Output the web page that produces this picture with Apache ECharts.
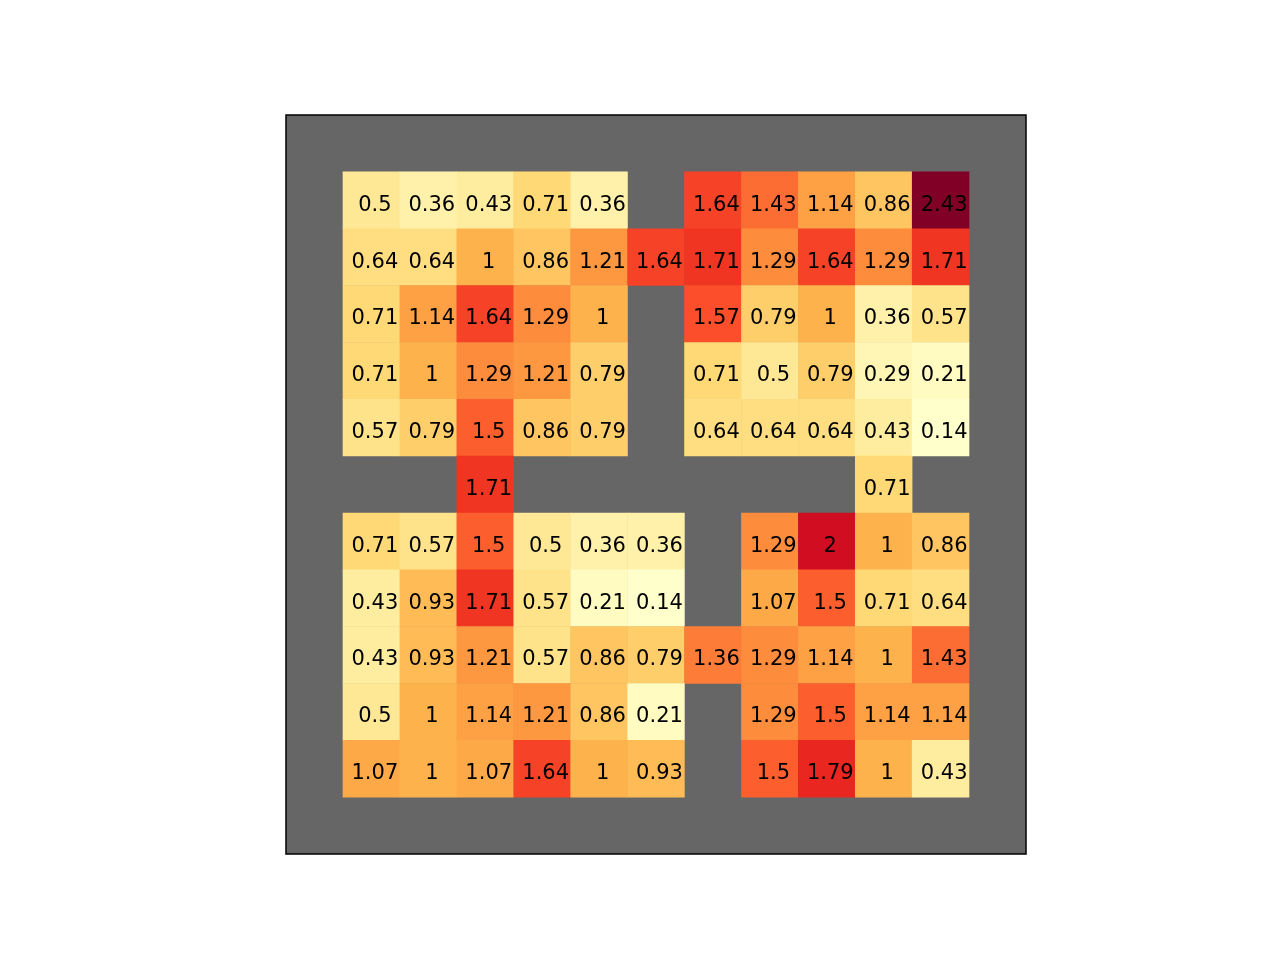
<!DOCTYPE html>
<html><head><meta charset="utf-8">
<script src="https://cdn.jsdelivr.net/npm/echarts@6/dist/echarts.min.js"></script>
<style>html,body{margin:0;padding:0;background:#fff}#c{width:1280px;height:960px}</style>
</head><body><div id="c"></div>
<script>
// grid is 13x13; data occupy columns 1..11 and rows 1..11 (row 1 at top). null = no cell
const row1  = [0.5, 0.36, 0.43, 0.71, 0.36, null, 1.64, 1.43, 1.14, 0.86, 2.43];
const row2  = [0.64, 0.64, 1, 0.86, 1.21, 1.64, 1.71, 1.29, 1.64, 1.29, 1.71];
const row3  = [0.71, 1.14, 1.64, 1.29, 1, null, 1.57, 0.79, 1, 0.36, 0.57];
const row4  = [0.71, 1, 1.29, 1.21, 0.79, null, 0.71, 0.5, 0.79, 0.29, 0.21];
const row5  = [0.57, 0.79, 1.5, 0.86, 0.79, null, 0.64, 0.64, 0.64, 0.43, 0.14];
const row6  = [null, null, 1.71, null, null, null, null, null, null, 0.71, null];
const row7  = [0.71, 0.57, 1.5, 0.5, 0.36, 0.36, null, 1.29, 2, 1, 0.86];
const row8  = [0.43, 0.93, 1.71, 0.57, 0.21, 0.14, null, 1.07, 1.5, 0.71, 0.64];
const row9  = [0.43, 0.93, 1.21, 0.57, 0.86, 0.79, 1.36, 1.29, 1.14, 1, 1.43];
const row10 = [0.5, 1, 1.14, 1.21, 0.86, 0.21, null, 1.29, 1.5, 1.14, 1.14];
const row11 = [1.07, 1, 1.07, 1.64, 1, 0.93, null, 1.5, 1.79, 1, 0.43];
const rows = [row1,row2,row3,row4,row5,row6,row7,row8,row9,row10,row11];
const xCats = Array.from({length:13},(_,i)=>String(i));
const yCats = Array.from({length:13},(_,i)=>String(i));

const data = [];
rows.forEach((r, ri) => {
  r.forEach((v, ci) => {
    if (v !== null) data.push([ci + 1, ri + 1, v]);
  });
});
const vals = data.map(d => d[2]);
const vmin = Math.min(...vals), vmax = Math.max(...vals);

const chart = echarts.init(document.getElementById('c'));
chart.setOption({
  animation: false,
  backgroundColor: '#ffffff',
  grid: { left: 286, top: 115, width: 740, height: 739, show: true,
          backgroundColor: '#666666', borderColor: '#000000', borderWidth: 1.5 },
  xAxis: { type: 'category', data: xCats, show: false },
  yAxis: { type: 'category', data: yCats, inverse: true, show: false },
  visualMap: { show: false, min: vmin, max: vmax, dimension: 2,
    inRange: { color: ['#ffffcc','#ffeda0','#fed976','#feb24c','#fd8d3c','#fc4e2a','#e31a1c','#bd0026','#800026'] } },
  series: [{
    type: 'heatmap', data: data,
    label: { show: true, color: '#000', fontFamily: 'DejaVu Sans', fontSize: 21,
             offset: [3.5, 5],
             formatter: p => String(p.value[2]) },
    itemStyle: { borderWidth: 0 },
    emphasis: { disabled: true }
  }]
});
</script></body></html>
